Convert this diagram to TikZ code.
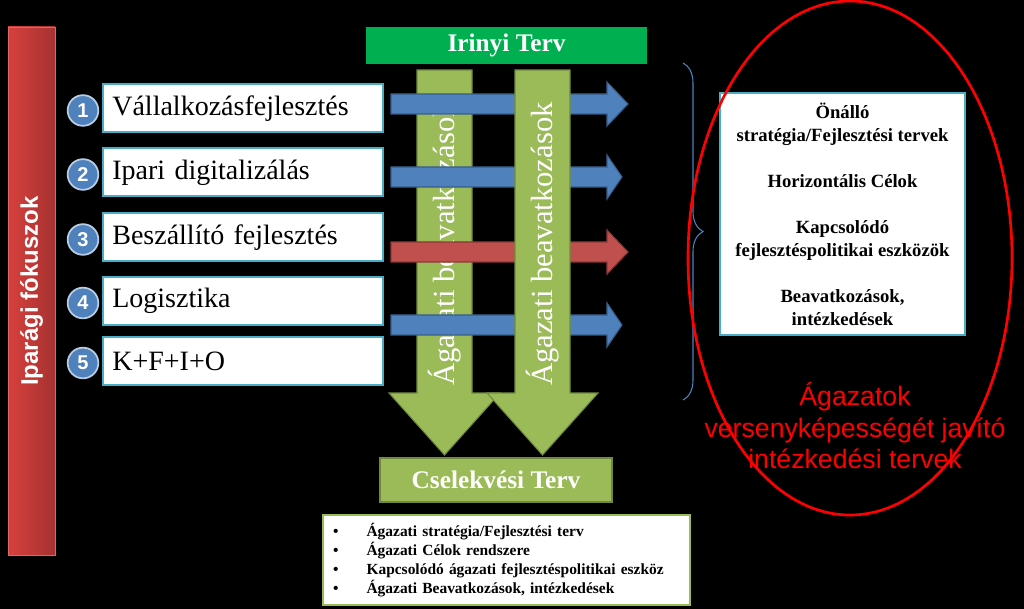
\documentclass[tikz,border=0pt]{standalone}
\usepackage{fontspec}
\setmainfont{Liberation Serif}
\setsansfont{Liberation Sans}
\usetikzlibrary{decorations.pathreplacing}
\definecolor{kek}{RGB}{79,129,189}
\definecolor{kekszel}{RGB}{56,93,138}
\definecolor{piros}{RGB}{192,80,77}
\definecolor{pirosszel}{RGB}{140,56,54}
\definecolor{savbal}{RGB}{214,64,61}
\definecolor{savjobb}{RGB}{166,50,48}
\definecolor{oliva}{RGB}{155,187,89}
\definecolor{olivaszel}{RGB}{113,137,63}
\definecolor{zold}{RGB}{0,176,80}
\definecolor{turkiz}{RGB}{75,172,198}

\begin{document}
\begin{tikzpicture}[x=0.75pt,y=-0.75pt,
  fokusz/.style={draw=turkiz,line width=1.5pt,fill=white,minimum height=36pt,
    text width=196pt,inner xsep=7pt,align=left,font=\fontsize{21}{24}\selectfont},
  szam/.style={circle,fill=kek,draw=kek!40!white,line width=1.3pt,minimum size=23pt,
    inner sep=0pt,text=white,font=\sffamily\bfseries\fontsize{15}{17}\selectfont},
  lefele/.style={fill=oliva,draw=olivaszel,line width=0.8pt},
  nyilszoveg/.style={rotate=90,text=white,font=\fontsize{23}{25}\selectfont}]
  \useasboundingbox (0,0) rectangle (1024,609);
  \fill[black] (0,0) rectangle (1024,609);
  % bal oldali sav
  \draw[left color=savbal,right color=savjobb,draw=savbal!80!white]
    (8,27) rectangle (55,555);
  \node[rotate=90,text=white,font=\sffamily\bfseries\fontsize{18}{20}\selectfont]
    (fokuszok) at (31.5,291) {Iparági fókuszok};
  \foreach \i/\y/\t in {1/108.5/Vállalkozásfejlesztés,2/172.5/Ipari digitalizálás,
      3/237.5/Beszállító fejlesztés,4/301/Logisztika,5/361/K+F+I+O}{
    \node[fokusz] (fokusz\i) at (243,\y) {\t};
    \node[szam] (szam\i) at (83,\y+2) {\i};
  }
  \node[fill=zold,minimum width=210.75pt,minimum height=27.75pt,text=white,
    font=\bfseries\fontsize{19}{21}\selectfont] (irinyi) at (506.5,45.5) {Irinyi Terv};
  % agazati nyilak
  \draw[lefele] (417,70) -- (472,70) -- (472,393) -- (500,393) -- (444.5,455)
    -- (389,393) -- (417,393) -- cycle;
  \node[nyilszoveg] (beav1) at (444.5,244) {Ágazati beavatkozások};
  \foreach \c/\t/\sz/\sc in {104/628/kek/kekszel,177/622/kek/kekszel,
      252/628/piros/pirosszel,325/622/kek/kekszel}
    \draw[fill=\sz,draw=\sc,line width=0.8pt] (391,\c-10) -- (607,\c-10) -- (607,\c-22)
      -- (\t,\c) -- (607,\c+22) -- (607,\c+10) -- (391,\c+10) -- cycle;
  \draw[lefele] (515,70) -- (570,70) -- (570,393) -- (598,393) -- (542.5,455)
    -- (487,393) -- (515,393) -- cycle;
  \node[nyilszoveg] (beav2) at (542.5,244) {Ágazati beavatkozások};
  % jobb oldal
  \coordinate (kapocsfent) at (683,63);
  \coordinate (kapocslent) at (683,400);
  \draw[kek,line width=0.8pt,decorate,decoration={brace,amplitude=15pt}]
    (kapocsfent) -- (kapocslent);
  \node[draw=turkiz,line width=1.5pt,fill=white,minimum width=184pt,minimum height=181.5pt,
    align=center,font=\bfseries\fontsize{14}{17.25}\selectfont] (celok) at (842.5,214)
    {Önálló\\stratégia/Fejlesztési tervek\\[17.25pt]Horizontális Célok\\[17.25pt]
     Kapcsolódó\\fejlesztéspolitikai eszközök\\[17.25pt]Beavatkozások,\\intézkedések};
  \draw[red,line width=2pt] (850,258) ellipse [x radius=162,y radius=257];
  \node[text=red,align=center,font=\sffamily\fontsize{20}{23.6}\selectfont] (agazatok)
    at (855,426) {Ágazatok\\versenyképességét javító\\intézkedési tervek};
  % also resz
  \node[fill=oliva,draw=olivaszel,line width=0.8pt,minimum width=174pt,minimum height=33pt,
    text=white,font=\bfseries\fontsize{19}{21}\selectfont] (cselekvesi) at (496,480)
    {Cselekvési Terv};
  \node[draw=oliva,line width=1.5pt,fill=white,text width=260pt,inner xsep=7.5pt,
    minimum height=67.5pt,align=left,font=\bfseries\fontsize{11.6}{14.3}\selectfont]
    (lista) at (506.5,560)
    {\makebox[25pt][l]{\textbullet}Ágazati stratégia/Fejlesztési terv\\
     \makebox[25pt][l]{\textbullet}Ágazati Célok rendszere\\
     \makebox[25pt][l]{\textbullet}Kapcsolódó ágazati fejlesztéspolitikai eszköz\\
     \makebox[25pt][l]{\textbullet}Ágazati Beavatkozások, intézkedések};
\end{tikzpicture}
\end{document}
